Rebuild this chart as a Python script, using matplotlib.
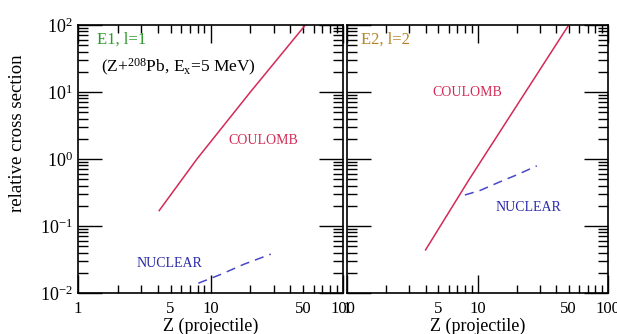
import numpy as np
import matplotlib
matplotlib.use("Agg")
import matplotlib.pyplot as plt
from matplotlib.ticker import LogLocator, FixedLocator, FixedFormatter, NullFormatter, LogFormatterMathtext

plt.rcParams['font.family'] = ['Liberation Serif', 'DejaVu Serif']
plt.rcParams['mathtext.fontset'] = 'custom'
plt.rcParams['mathtext.rm'] = 'Liberation Serif'
plt.rcParams['mathtext.it'] = 'Liberation Serif'

# E1 panel
e1_coul_z = [4.1, 7.9, 20.0, 52.0]
e1_coul_s = [0.17, 1.0, 10.0, 100.0]
e1_nuc_z = [8.1, 12.0, 18.0, 28.5]
e1_nuc_s = [0.014, 0.019, 0.027, 0.038]

# E2 panel
e2_coul_z = [4.0, 8.6, 50.0]
e2_coul_s = [0.044, 0.49, 100.0]
e2_nuc_z = [8.0, 10.5, 14.6, 20.0, 28.5]
e2_nuc_s = [0.29, 0.34, 0.45, 0.58, 0.79]

xtick_vals = [1, 10, 100]
xtick_lbls = ['1', '10', '100']
xminor_vals = [2, 3, 4, 5, 6, 7, 8, 9, 20, 30, 40, 50, 60, 70, 80, 90]
xminor_lbls = ['', '', '', '5', '', '', '', '', '', '', '', '50', '', '', '', '']

red = '#d42a55'
blue = '#4848c8'

fig = plt.figure(figsize=(6.17, 3.34), dpi=100)
ax1 = fig.add_axes([78/617, 41/334, 265/617, 268/334])
ax2 = fig.add_axes([347/617, 41/334, 261/617, 268/334])

for ax in (ax1, ax2):
    ax.set_xscale('log')
    ax.set_yscale('log')
    ax.set_xlim(1, 100)
    ax.set_ylim(1e-2, 1e2)
    ax.xaxis.set_major_locator(FixedLocator(xtick_vals))
    ax.xaxis.set_major_formatter(FixedFormatter(xtick_lbls))
    ax.xaxis.set_minor_locator(FixedLocator(xminor_vals))
    ax.xaxis.set_minor_formatter(FixedFormatter(xminor_lbls))
    ax.yaxis.set_major_locator(LogLocator(base=10))
    ax.yaxis.set_minor_locator(LogLocator(base=10, subs=np.arange(2, 10)))
    ax.yaxis.set_minor_formatter(NullFormatter())
    ax.tick_params(which='both', direction='in', top=True, right=True, width=1.0, labelsize=12)
    ax.tick_params(axis='y', which='major', length=17, labelsize=13)
    ax.tick_params(axis='y', which='minor', length=7)
    ax.tick_params(axis='x', which='major', length=13, pad=6)
    ax.tick_params(axis='x', which='minor', length=6, pad=6)
    for s in ax.spines.values():
        s.set_linewidth(1.2)
    ax.set_xlabel('Z (projectile)', fontsize=13, labelpad=0)

ax1.yaxis.set_major_formatter(LogFormatterMathtext())
ax2.yaxis.set_major_formatter(NullFormatter())
ax1.set_ylabel('relative cross section', fontsize=13.5)
ax1.yaxis.set_label_coords(-0.196, 0.597)

ax1.plot(e1_coul_z, e1_coul_s, color=red, lw=1.1)
ax1.plot(e1_nuc_z, e1_nuc_s, color=blue, lw=1.1, dashes=(6, 4))
ax2.plot(e2_coul_z, e2_coul_s, color=red, lw=1.1)
ax2.plot(e2_nuc_z, e2_nuc_s, color=blue, lw=1.1, dashes=(6, 4))

ax1.text(1.39, 60, 'E1, l=1', color='#2e9a2e', fontsize=12, va='center')
ax1.text(1.5, 23, '(Z+$^{208}$Pb, E$_x$=5 MeV)', color='black', fontsize=12.5, va='center')
ax1.text(25, 1.9, 'COULOMB', color=red, fontsize=10, va='center', ha='center')
ax1.text(4.9, 0.028, 'NUCLEAR', color='#2a2aa8', fontsize=10, va='center', ha='center')
ax2.text(1.28, 60, 'E2, l=2', color='#b5852a', fontsize=12, va='center')
ax2.text(8.3, 10, 'COULOMB', color=red, fontsize=10, va='center', ha='center')
ax2.text(24.4, 0.19, 'NUCLEAR', color='#2a2aa8', fontsize=10, va='center', ha='center')

fig.savefig('out.png', dpi=100)
